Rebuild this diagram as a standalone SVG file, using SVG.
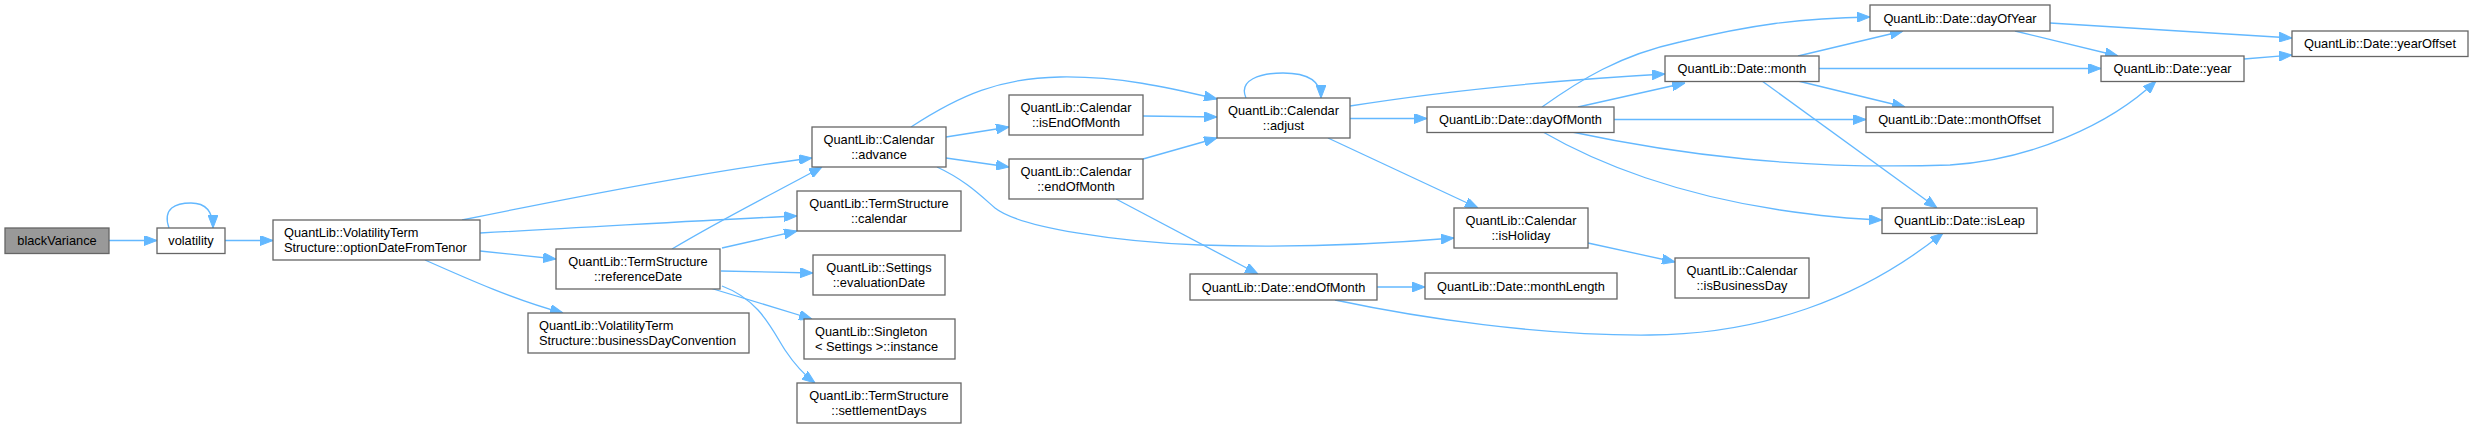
<svg xmlns="http://www.w3.org/2000/svg" width="2473" height="429" viewBox="0 0 2473 429">
<style>
.n rect{fill:#ffffff;stroke:#666666;stroke-width:1.3}
.n.root rect{fill:#999999}
.n text{font-family:"Liberation Sans",Arial,sans-serif;font-size:12.8px;fill:#000000}
.c{text-anchor:middle}
.e path{fill:none;stroke:#63b8ff;stroke-width:1.3;marker-end:url(#ah)}
</style>
<defs>
<marker id="ah" viewBox="0 0 13 10" refX="13" refY="5" markerWidth="13" markerHeight="10" markerUnits="userSpaceOnUse" orient="auto">
<path d="M0,0 L13,5 L0,10 z" fill="#63b8ff" stroke="#63b8ff" stroke-width="1"/>
</marker>
</defs>
<rect width="2473" height="429" fill="#ffffff"/>
<g id="edges" class="e">
<path d="M109,240.5 L157,240.5"/>
<path d="M169,228 C162,208 176,203 191,203 C205,203 213,210 213,228"/>
<path d="M225,240.5 L273,240.5"/>
<path d="M462,220 C560,200 700,172 812,158"/>
<path d="M480,233 C600,227 700,220 797,216"/>
<path d="M480,251 L556,259"/>
<path d="M425,260 C470,280 515,300 563,313"/>
<path d="M672,249 C720,220 780,190 822,167"/>
<path d="M722,248 L797,231"/>
<path d="M721,271 L813,273"/>
<path d="M710,288 L812,319"/>
<path d="M722,286 C760,300 772,330 785,350 C795,365 803,374 815,383"/>
<path d="M911,127 C960,95 1000,78 1060,77 C1120,76 1170,88 1217,99"/>
<path d="M946,137 L1009,127"/>
<path d="M946,158 L1009,167"/>
<path d="M937,167 C965,180 980,195 995,208 C1020,228 1120,242 1200,245 C1290,248 1370,245 1454,238"/>
<path d="M1143,116 L1217,117"/>
<path d="M1143,159 L1217,138"/>
<path d="M1116,199 L1258,274"/>
<path d="M1246,98 C1238,80 1260,73 1283,73 C1306,73 1321,80 1321,98"/>
<path d="M1350,106 C1450,90 1560,80 1665,74"/>
<path d="M1350,118.5 L1427,118.5"/>
<path d="M1328,138 L1478,208"/>
<path d="M1588,243 L1675,262"/>
<path d="M1377,287 L1425,287"/>
<path d="M1335,300 C1420,318 1540,336 1650,335 C1760,334 1860,300 1943,233"/>
<path d="M1578,107 L1685,83"/>
<path d="M1542,107 C1580,80 1620,55 1680,42 C1750,25 1800,18 1870,17"/>
<path d="M1614,119.5 L1866,119.5"/>
<path d="M1572,132 C1680,155 1800,170 1950,165 C2030,160 2110,125 2156,81"/>
<path d="M1543,132 C1600,165 1680,195 1780,210 C1820,216 1850,219 1882,220"/>
<path d="M1798,56 L1903,31"/>
<path d="M1819,68.5 L2101,68.5"/>
<path d="M1798,81 L1905,107"/>
<path d="M1762,81 L1937,208"/>
<path d="M2050,23 L2292,38"/>
<path d="M2015,31 L2118,56"/>
<path d="M2244,59 L2292,55"/>
</g>
<g id="blackVariance" class="n root"><rect x="5" y="228" width="104" height="25.5"/><text class="c" x="57" y="245">blackVariance</text></g>
<g id="volatility" class="n"><rect x="157" y="228" width="68" height="25.5"/><text class="c" x="191" y="245">volatility</text></g>
<g id="optionDateFromTenor" class="n"><rect x="273" y="220" width="207" height="40"/><text x="284" y="236.5">QuantLib::VolatilityTerm</text><text x="284" y="251.5">Structure::optionDateFromTenor</text></g>
<g id="advance" class="n"><rect x="812" y="127" width="134" height="40"/><text class="c" x="879" y="143.5">QuantLib::Calendar</text><text class="c" x="879" y="158.5">::advance</text></g>
<g id="tsCalendar" class="n"><rect x="797" y="191" width="164" height="40"/><text class="c" x="879" y="207.5">QuantLib::TermStructure</text><text class="c" x="879" y="222.5">::calendar</text></g>
<g id="referenceDate" class="n"><rect x="556" y="249" width="164" height="40"/><text class="c" x="638" y="265.5">QuantLib::TermStructure</text><text class="c" x="638" y="280.5">::referenceDate</text></g>
<g id="evaluationDate" class="n"><rect x="813" y="255" width="132" height="40"/><text class="c" x="879" y="271.5">QuantLib::Settings</text><text class="c" x="879" y="286.5">::evaluationDate</text></g>
<g id="singletonInstance" class="n"><rect x="804" y="319" width="151" height="40"/><text x="815" y="335.5">QuantLib::Singleton</text><text x="815" y="350.5">&lt; Settings &gt;::instance</text></g>
<g id="settlementDays" class="n"><rect x="797" y="383" width="164" height="40"/><text class="c" x="879" y="399.5">QuantLib::TermStructure</text><text class="c" x="879" y="414.5">::settlementDays</text></g>
<g id="businessDayConvention" class="n"><rect x="528" y="313" width="221" height="40"/><text x="539" y="329.5">QuantLib::VolatilityTerm</text><text x="539" y="344.5">Structure::businessDayConvention</text></g>
<g id="isEndOfMonth" class="n"><rect x="1009" y="95" width="134" height="40"/><text class="c" x="1076" y="111.5">QuantLib::Calendar</text><text class="c" x="1076" y="126.5">::isEndOfMonth</text></g>
<g id="calEndOfMonth" class="n"><rect x="1009" y="159" width="134" height="40"/><text class="c" x="1076" y="175.5">QuantLib::Calendar</text><text class="c" x="1076" y="190.5">::endOfMonth</text></g>
<g id="adjust" class="n"><rect x="1217" y="98" width="133" height="40"/><text class="c" x="1283.5" y="114.5">QuantLib::Calendar</text><text class="c" x="1283.5" y="129.5">::adjust</text></g>
<g id="isHoliday" class="n"><rect x="1454" y="208" width="134" height="40"/><text class="c" x="1521" y="224.5">QuantLib::Calendar</text><text class="c" x="1521" y="239.5">::isHoliday</text></g>
<g id="dateEndOfMonth" class="n"><rect x="1190" y="274" width="187" height="26"/><text class="c" x="1283.5" y="291.5">QuantLib::Date::endOfMonth</text></g>
<g id="monthLength" class="n"><rect x="1425" y="273" width="192" height="26"/><text class="c" x="1521" y="290.5">QuantLib::Date::monthLength</text></g>
<g id="isBusinessDay" class="n"><rect x="1675" y="258" width="134" height="40"/><text class="c" x="1742" y="274.5">QuantLib::Calendar</text><text class="c" x="1742" y="289.5">::isBusinessDay</text></g>
<g id="dayOfMonth" class="n"><rect x="1427" y="107" width="187" height="25.5"/><text class="c" x="1520.5" y="124">QuantLib::Date::dayOfMonth</text></g>
<g id="month" class="n"><rect x="1665" y="56" width="154" height="25.5"/><text class="c" x="1742" y="73">QuantLib::Date::month</text></g>
<g id="dayOfYear" class="n"><rect x="1870" y="5" width="180" height="26"/><text class="c" x="1960" y="22.5">QuantLib::Date::dayOfYear</text></g>
<g id="monthOffset" class="n"><rect x="1866" y="107" width="187" height="25.5"/><text class="c" x="1959.5" y="124">QuantLib::Date::monthOffset</text></g>
<g id="isLeap" class="n"><rect x="1882" y="208" width="155" height="25.5"/><text class="c" x="1959.5" y="225">QuantLib::Date::isLeap</text></g>
<g id="year" class="n"><rect x="2101" y="56" width="143" height="25.5"/><text class="c" x="2172.5" y="73">QuantLib::Date::year</text></g>
<g id="yearOffset" class="n"><rect x="2292" y="31" width="176" height="25.5"/><text class="c" x="2380" y="48">QuantLib::Date::yearOffset</text></g>
</svg>
